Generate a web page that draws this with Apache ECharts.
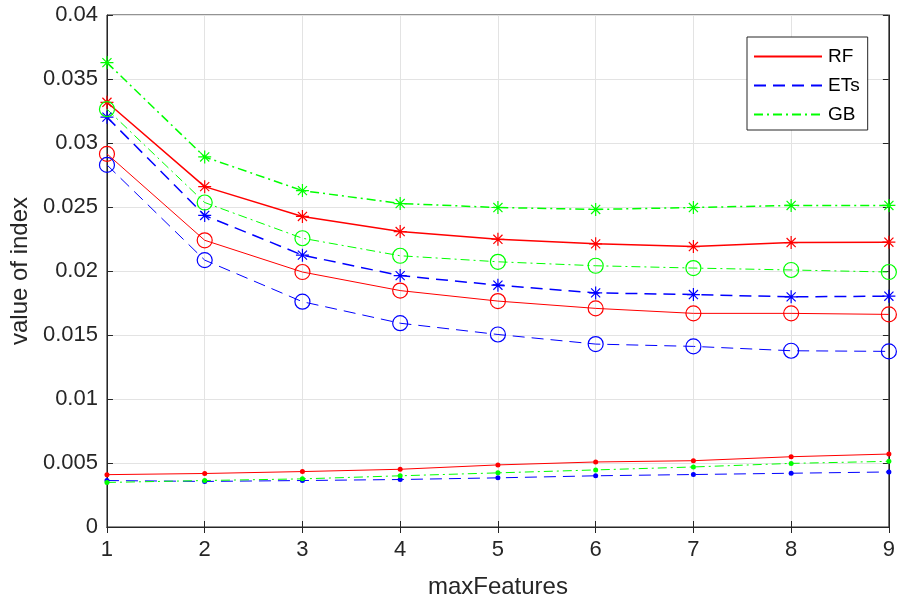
<!DOCTYPE html>
<html>
<head>
<meta charset="utf-8">
<script src="https://cdn.jsdelivr.net/npm/echarts@6/dist/echarts.min.js"></script>
<style>html,body{margin:0;padding:0;background:#fff}#c{width:898px;height:604px}</style>
</head>
<body>
<div id="c"></div>
<script>
const maxFeatures = [1, 2, 3, 4, 5, 6, 7, 8, 9];
const yTicks = [0, 0.005, 0.01, 0.015, 0.02, 0.025, 0.03, 0.035, 0.04];

const rfStar   = [0.03318, 0.02659, 0.02426, 0.02308, 0.02248, 0.02212, 0.02191, 0.02222, 0.02225];
const rfCircle = [0.02915, 0.02240, 0.01992, 0.01847, 0.01765, 0.01708, 0.01669, 0.01669, 0.01661];
const rfDot    = [0.00409, 0.00418, 0.00433, 0.00451, 0.00485, 0.00508, 0.00518, 0.00549, 0.00570];

const etStar   = [0.03202, 0.02434, 0.02124, 0.01964, 0.01889, 0.01829, 0.01816, 0.01798, 0.01803];
const etCircle = [0.02829, 0.02085, 0.01760, 0.01592, 0.01504, 0.01429, 0.01411, 0.01377, 0.01372];
const etDot    = [0.00363, 0.00356, 0.00363, 0.00371, 0.00384, 0.00400, 0.00410, 0.00420, 0.00430];

const gbStar   = [0.03628, 0.02891, 0.02628, 0.02527, 0.02496, 0.02481, 0.02496, 0.02512, 0.02512];
const gbCircle = [0.03264, 0.02535, 0.02256, 0.02119, 0.02072, 0.02041, 0.02023, 0.02008, 0.01992];
const gbDot    = [0.00348, 0.00363, 0.00376, 0.00400, 0.00423, 0.00446, 0.00469, 0.00497, 0.00513];

const legendNames = ['RF', 'ETs', 'GB'];

const RED = '#ff0000', BLUE = '#0000ff', GREEN = '#00ff00';
const styles = {
  RF:  {color: RED,   type: 'solid'},
  ETs: {color: BLUE,  type: [12, 7]},
  GB:  {color: GREEN, type: [9, 4, 2, 4]}
};
const ASTER = 'path://M5,0L5,10M0,5L10,5M1.5,1.5L8.5,8.5M1.5,8.5L8.5,1.5';

function pairs(arr) { return arr.map((v, i) => [maxFeatures[i], v]); }

function mk(name, fam, arr, kind) {
  const st = styles[fam];
  const s = {
    name: name, type: 'line', data: pairs(arr), clip: false, silent: true,
    lineStyle: {color: st.color, type: st.type, width: kind === 'star' ? 1.5 : 1},
    z: 3
  };
  if (kind === 'star') {
    s.symbol = ASTER; s.symbolSize = 13;
    s.itemStyle = {color: 'rgba(0,0,0,0)', borderColor: st.color, borderWidth: 1.2};
  } else if (kind === 'circle') {
    s.symbol = 'circle'; s.symbolSize = 15;
    s.itemStyle = {color: 'rgba(0,0,0,0)', borderColor: st.color, borderWidth: 1.2};
  } else {
    s.symbol = 'circle'; s.symbolSize = 5;
    s.itemStyle = {color: st.color, borderWidth: 0};
  }
  return s;
}

const series = [];
legendNames.forEach(n => {
  const st = styles[n];
  series.push({name: n, type: 'line', data: [], symbol: 'circle', symbolSize: 0,
    lineStyle: {color: st.color, type: st.type, width: 1}, itemStyle: {color: st.color}});
});
series.push(mk('RF*', 'RF', rfStar, 'star'));
series.push(mk('RFo', 'RF', rfCircle, 'circle'));
series.push(mk('RF.', 'RF', rfDot, 'dot'));
series.push(mk('ETs*', 'ETs', etStar, 'star'));
series.push(mk('ETso', 'ETs', etCircle, 'circle'));
series.push(mk('ETs.', 'ETs', etDot, 'dot'));
series.push(mk('GB*', 'GB', gbStar, 'star'));
series.push(mk('GBo', 'GB', gbCircle, 'circle'));
series.push(mk('GB.', 'GB', gbDot, 'dot'));

const AX = '#262626';
const FONT = '"Liberation Sans", Arial, Helvetica, sans-serif';

const chart = echarts.init(document.getElementById('c'), null, {renderer: 'canvas'});
chart.setOption({
  animation: false,
  backgroundColor: '#fff',
  textStyle: {fontFamily: FONT},
  grid: {left: 104, right: 5, top: 15, bottom: 74, show: true, borderColor: AX, borderWidth: 1, backgroundColor: 'transparent'},
  legend: {
    data: legendNames, orient: 'vertical', left: 747, top: 37,
    backgroundColor: '#fff', borderColor: AX, borderWidth: 1, borderRadius: 0,
    padding: [10, 8, 6, 6], itemWidth: 68, itemHeight: 14, itemGap: 10,
    selectedMode: false,
    itemStyle: {opacity: 0},
    textStyle: {fontFamily: FONT, fontSize: 19, color: '#000', padding: [0, 0, 0, 1]}
  },
  xAxis: [{
    type: 'value', min: 1, max: 9, interval: 1,
    name: 'maxFeatures', nameLocation: 'middle', nameGap: 48,
    nameTextStyle: {fontFamily: FONT, fontSize: 24, color: AX},
    axisLine: {show: true, lineStyle: {color: AX}},
    axisTick: {show: true, inside: true, length: 6, lineStyle: {color: AX}},
    axisLabel: {fontFamily: FONT, fontSize: 22, color: AX, margin: 12},
    splitLine: {show: true, lineStyle: {color: '#e3e3e3', width: 1}}
  }, {
    type: 'value', min: 1, max: 9, interval: 1, position: 'top',
    axisLine: {show: true, lineStyle: {color: AX}},
    axisTick: {show: true, inside: true, length: 6, lineStyle: {color: AX}},
    axisLabel: {show: false}, splitLine: {show: false}
  }],
  yAxis: [{
    type: 'value', min: 0, max: 0.04, interval: 0.005,
    name: 'value of index', nameLocation: 'middle', nameGap: 64,
    nameTextStyle: {fontFamily: FONT, fontSize: 24, color: AX},
    axisLine: {show: true, lineStyle: {color: AX}},
    axisTick: {show: true, inside: true, length: 6, lineStyle: {color: AX}},
    axisLabel: {fontFamily: FONT, fontSize: 22, color: AX, margin: 9,
      formatter: v => String(parseFloat(v.toFixed(4)))},
    splitLine: {show: true, lineStyle: {color: '#e3e3e3', width: 1}}
  }, {
    type: 'value', min: 0, max: 0.04, interval: 0.005, position: 'right',
    axisLine: {show: true, lineStyle: {color: AX}},
    axisTick: {show: true, inside: true, length: 6, lineStyle: {color: AX}},
    axisLabel: {show: false}, splitLine: {show: false}
  }],
  series: series
});
</script>
</body>
</html>
